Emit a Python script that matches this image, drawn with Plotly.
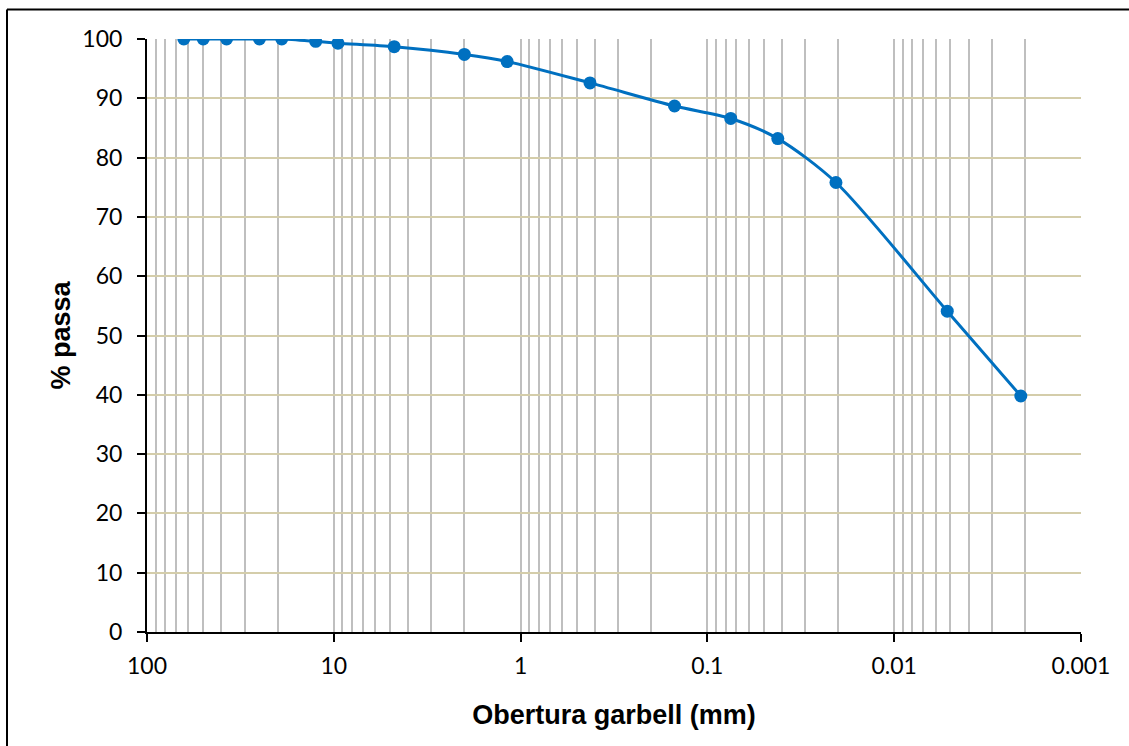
import plotly.graph_objects as go

# Data
sieve_mm = [63.5, 50, 37.5, 25, 19, 12.5, 9.5, 4.75, 2.0, 1.18, 0.425, 0.15,
            0.075, 0.042, 0.0205, 0.0052, 0.0021]
pct_pass = [100, 100, 100, 100, 100, 99.6, 99.3, 98.7, 97.4, 96.2, 92.6, 88.7,
            86.6, 83.2, 75.8, 54.1, 39.8]

x_tickvals = [100, 10, 1, 0.1, 0.01, 0.001]
x_ticktext = ["100", "10", "1", "0.1", "0.01", "0.001"]

W, H = 1129, 746
L, R, T, B = 147, 48, 39, 114
pw, ph = W - L - R, H - T - B

fig = go.Figure()
fig.add_trace(go.Scatter(
    x=sieve_mm, y=pct_pass, mode="lines+markers",
    line=dict(color="#0070C0", width=3, shape="spline", smoothing=0.8),
    marker=dict(color="#0070C0", size=13),
    showlegend=False,
))

tick_font = dict(family="Lato, Calibri, sans-serif", size=23, color="#000000")
title_font = dict(family="Liberation Sans, Arial, sans-serif", size=27, color="#000000")

fig.update_layout(
    width=W, height=H,
    margin=dict(l=L, r=R, t=T, b=B, autoexpand=False),
    paper_bgcolor="white", plot_bgcolor="white",
    xaxis=dict(
        type="log", range=[2, -3],
        tickvals=x_tickvals, ticktext=x_ticktext,
        showgrid=True, gridcolor="#BFBFBF", gridwidth=1.5,
        minor=dict(dtick="D1", showgrid=True, gridcolor="#BFBFBF", gridwidth=1.5,
                   ticks=""),
        showline=True, linecolor="#000000", linewidth=2,
        ticks="outside", ticklen=8, tickcolor="#000000", tickwidth=1.5,
        tickfont=tick_font, ticklabelstandoff=4,
        title=dict(text="<b>Obertura garbell (mm)</b>", font=title_font, standoff=28),
        zeroline=False, automargin=False,
    ),
    yaxis=dict(
        range=[0, 100], dtick=10,
        showgrid=True, gridcolor="#D4CDAA", gridwidth=1.5,
        showline=True, linecolor="#000000", linewidth=2,
        ticks="outside", ticklen=8, tickcolor="#000000", tickwidth=1.5,
        tickfont=tick_font, ticklabelstandoff=10,
        title=dict(text="<b>% passa</b>", font=title_font, standoff=4),
        zeroline=False, automargin=False,
    ),
)

# Outer chart border (left and top edges visible)
bx = (7 - L) / pw
by = (H - B - 9.5) / ph  # top border
fig.add_shape(type="line", xref="paper", yref="paper",
              x0=bx, x1=bx, y0=-0.25, y1=by,
              line=dict(color="#000000", width=2))
fig.add_shape(type="line", xref="paper", yref="paper",
              x0=bx, x1=1.1, y0=by, y1=by,
              line=dict(color="#000000", width=2))

fig.write_html("out.html")
